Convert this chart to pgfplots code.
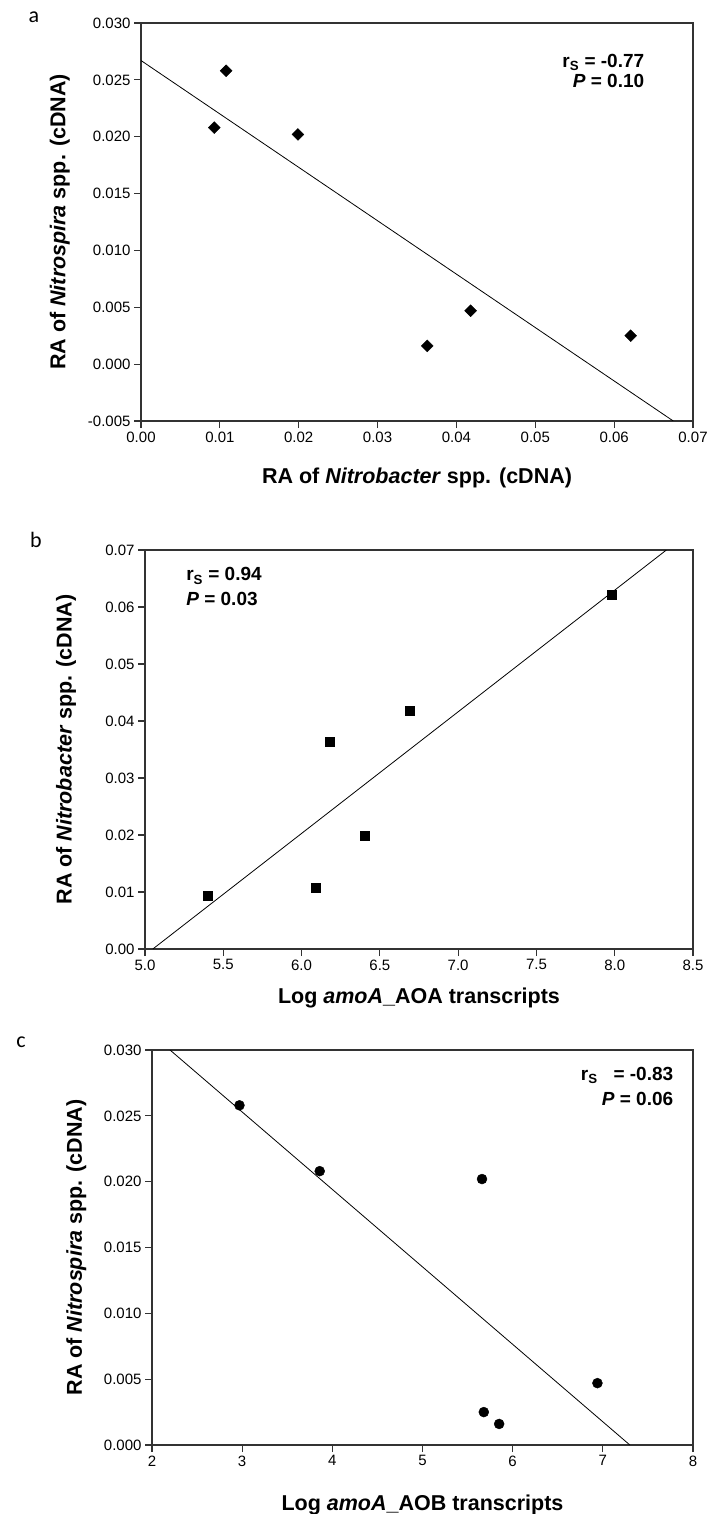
\documentclass[border=0pt]{standalone}
\usepackage{pgfplots}
\pgfplotsset{compat=1.18}
\usepackage{fontspec}
\setmainfont{Liberation Sans}
\newfontfamily\carlito{Carlito}

\pgfplotsset{
  panel/.style={
    scale only axis,
    clip mode=individual,
    axis line style={line width=1.1pt, black!80},
    every tick/.style={line width=1.1pt, black!80},
    tick align=outside,
    major tick length=7pt,
    tick pos=left,
    scaled x ticks=false,
    scaled y ticks=false,
    /pgf/number format/assume math mode=true,
    ticklabel style={font=\fontsize{15}{18}\selectfont},
    label style={font=\fontsize{21.5}{25}\selectfont\bfseries},
    xlabel style={anchor=center},
    ylabel style={anchor=center},
  },
}
\tikzset{
  annot/.style={font=\fontsize{19}{25}\selectfont\bfseries},
  plab/.style={font=\fontsize{22}{26}\selectfont\carlito, anchor=center},
}

\begin{document}
\begin{tikzpicture}
\path[use as bounding box] (0pt,0pt) rectangle (714pt,-1514pt);

% ---------------- panel a ----------------
\begin{axis}[panel,
  at={(141pt,-23pt)}, anchor=north west,
  width=552pt, height=398pt,
  xmin=0, xmax=0.07, ymin=-0.005, ymax=0.030,
  xtick={0,0.01,0.02,0.03,0.04,0.05,0.06,0.07},
  ytick={-0.005,0,0.005,0.010,0.015,0.020,0.025,0.030},
  xticklabel style={/pgf/number format/.cd, fixed, fixed zerofill, precision=2},
  yticklabel style={/pgf/number format/.cd, fixed, fixed zerofill, precision=3},
  xlabel={RA of \textit{Nitrobacter} spp. (cDNA)},
  ylabel={RA of \textit{Nitrospira} spp. (cDNA)},
  xlabel style={at={(axis description cs:0.5,-0.143)}},
  ylabel style={at={(axis description cs:-0.147,0.5)}},
]
\addplot[only marks, mark=square*, mark size=4.2pt, mark options={rotate=45, fill=black, draw=black}]
  coordinates {(0.0093,0.0208) (0.0108,0.0258) (0.0199,0.0202) (0.0363,0.0016) (0.0418,0.0047) (0.0621,0.0025)};
\addplot[black, line width=0.8pt, no marks] coordinates {(0,0.0267) (0.0675,-0.005)};
\node[annot, anchor=north east, align=right, font=\fontsize{19}{20}\selectfont\bfseries] at (axis description cs:0.918,0.93)
  {r\textsubscript{S} = -0.77\\\textit{P} = 0.10};
\end{axis}

% ---------------- panel b ----------------
\begin{axis}[panel,
  at={(145pt,-550pt)}, anchor=north west,
  width=548pt, height=399pt,
  xmin=5, xmax=8.5, ymin=0, ymax=0.07,
  xtick={5,5.5,6,6.5,7,7.5,8,8.5},
  ytick={0,0.01,0.02,0.03,0.04,0.05,0.06,0.07},
  xticklabel style={/pgf/number format/.cd, fixed, fixed zerofill, precision=1},
  yticklabel style={/pgf/number format/.cd, fixed, fixed zerofill, precision=2},
  xlabel={Log \textit{amoA}\_AOA transcripts},
  ylabel={RA of \textit{Nitrobacter} spp. (cDNA)},
  xlabel style={at={(axis description cs:0.5,-0.123)}},
  ylabel style={at={(axis description cs:-0.144,0.5)}},
]
\addplot[only marks, mark=square*, mark size=4.5pt, mark options={fill=black, draw=black}]
  coordinates {(5.40,0.0093) (6.09,0.0108) (6.18,0.0363) (6.40,0.0199) (6.69,0.0418) (7.98,0.0621)};
\addplot[black, line width=0.8pt, no marks] coordinates {(5.05,0) (8.33,0.07)};
\node[annot, anchor=north west, align=left] at (axis description cs:0.069,0.965)
  {r\textsubscript{S} = 0.94\\\textit{P} = 0.03};
\end{axis}

% ---------------- panel c ----------------
\begin{axis}[panel,
  at={(152pt,-1050pt)}, anchor=north west,
  width=541pt, height=395pt,
  xmin=2, xmax=8, ymin=0, ymax=0.030,
  xtick={2,3,4,5,6,7,8},
  ytick={0,0.005,0.010,0.015,0.020,0.025,0.030},
  yticklabel style={/pgf/number format/.cd, fixed, fixed zerofill, precision=3},
  xlabel={Log \textit{amoA}\_AOB transcripts},
  ylabel={RA of \textit{Nitrospira} spp. (cDNA)},
  xlabel style={at={(axis description cs:0.5,-0.152)}},
  ylabel style={at={(axis description cs:-0.14,0.5)}},
]
\addplot[only marks, mark=*, mark size=5pt, mark options={fill=black, draw=black}]
  coordinates {(2.97,0.0258) (3.86,0.0208) (5.66,0.0202) (5.68,0.0025) (5.85,0.0016) (6.94,0.0047)};
\addplot[black, line width=0.8pt, no marks] coordinates {(2.2,0.030) (7.30,0)};
\node[annot, anchor=north east, align=right] at (axis description cs:0.97,0.965)
  {r\textsubscript{S} \ \ = -0.83\\\textit{P} = 0.06};
\end{axis}

% panel letters
\node[plab] at (34pt,-17pt) {a};
\node[plab] at (36pt,-540pt) {b};
\node[plab] at (21pt,-1042pt) {c};
\end{tikzpicture}
\end{document}
